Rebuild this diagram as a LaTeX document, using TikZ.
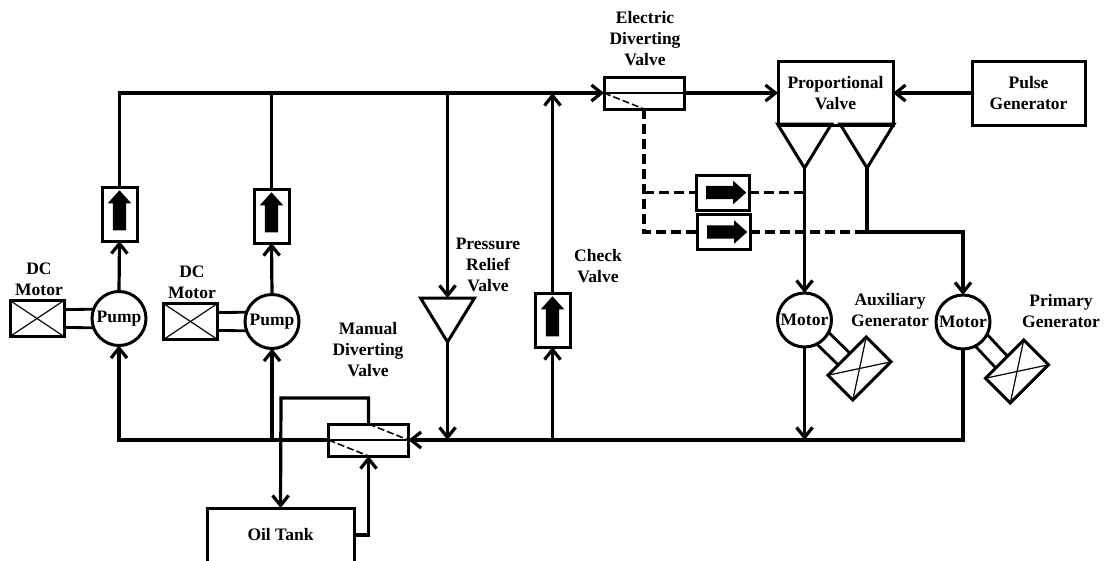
\documentclass[tikz,border=0pt]{standalone}
\usepackage{fontspec}
\setmainfont{Liberation Serif}
\usetikzlibrary{arrows.meta,positioning,calc,shapes.geometric,shapes.arrows}
\tikzset{
  pipe/.style={line width=3.2pt},
  flow/.style={pipe,-{Straight Barb[length=10pt,width=16pt,line width=3.2pt]}},
  signal/.style={line width=3.2pt,dash pattern=on 10pt off 5pt},
  shaft/.style={line width=2.8pt},
  thinline/.style={line width=1.2pt},
  thindash/.style={line width=1.5pt,dash pattern=on 7pt off 3pt},
  tagtext/.style={font=\fontsize{17.5}{21}\selectfont\bfseries,align=center,inner sep=0pt},
  unitbox/.style={draw,line width=3pt,inner sep=0pt,outer sep=0pt,tagtext},
  valvebox/.style={unitbox,minimum width=80pt,minimum height=32pt},
  motorbox/.style={unitbox,minimum width=54pt,minimum height=36pt},
  checkup/.style={unitbox,minimum width=35pt,minimum height=54pt},
  checkright/.style={unitbox,minimum width=53pt,minimum height=35pt},
  genbox/.style={unitbox,minimum width=54pt,minimum height=35pt,rotate=45},
  roundunit/.style={unitbox,circle,minimum size=54pt},
  wedge/.style={draw,line width=3pt,isosceles triangle,isosceles triangle stretches,
    shape border rotate=-90,minimum width=54pt,minimum height=44pt,inner sep=0pt,outer sep=0pt,anchor=apex},
  fatarrow/.style={single arrow,fill=black,inner sep=6.5pt,outer sep=0pt,minimum height=40pt,
    single arrow head extend=5pt,single arrow tip angle=84},
}
\begin{document}
\begin{tikzpicture}[x=1pt,y=-1pt]
  \useasboundingbox (0,0) rectangle (1107,560);

  % Left pump line
  \node[motorbox] (dcma) at (37,318.5) {};
  \node[roundunit] (pumpa) at (119,318.5) {Pump};
  \node[checkup] (cva) at (119.5,214) {};
  \node[fatarrow,shape border rotate=90] (cvamark) at (cva) {};
  \node[tagtext] (dcmatag) at (39,279) {DC\\Motor};

  % Second pump line
  \node[motorbox] (dcmb) at (190.5,321.5) {};
  \node[roundunit] (pumpb) at (272,321.5) {Pump};
  \node[checkup] (cvb) at (271.5,216) {};
  \node[fatarrow,shape border rotate=90] (cvbmark) at (cvb) {};
  \node[tagtext] (dcmbtag) at (192,282) {DC\\Motor};

  % Valves on the top line
  \node[valvebox] (edv) at (644,93) {};
  \node[tagtext] (edvtag) at (645,39) {Electric\\Diverting\\Valve};
  \node[unitbox,minimum width=115pt,minimum height=64pt] (pv) at (835.5,93) {Proportional\\Valve};
  \node[unitbox,minimum width=113pt,minimum height=64pt] (pulse) at (1028.5,93) {Pulse\\Generator};
  \node[wedge] (tria) at (804.5,168) {};
  \node[wedge] (trib) at (867,168) {};
  \node[checkright] (cvc) at (722.5,192.5) {};
  \node[fatarrow] (cvcmark) at (cvc) {};
  \node[checkright] (cvd) at (723.5,232) {};
  \node[fatarrow] (cvdmark) at (cvd) {};

  % Relief and check valve
  \node[wedge] (prv) at (447.5,342) {};
  \node[tagtext] (prvtag) at (488,265) {Pressure\\Relief\\Valve};
  \node[checkup] (cve) at (552.5,320) {};
  \node[fatarrow,shape border rotate=90] (cvemark) at (cve) {};
  \node[tagtext] (cvetag) at (598,266) {Check\\Valve};

  % Manual valve and tank
  \node[valvebox] (mdv) at (368.5,440) {};
  \node[tagtext] (mdvtag) at (368,350) {Manual\\Diverting\\Valve};
  \node[unitbox,minimum width=147pt,minimum height=54pt] (tank) at (280.5,535) {Oil Tank};
  \coordinate (mdvloop) at (281,398);

  % Motors and generators
  \node[roundunit] (mota) at (804.5,320) {Motor};
  \node[genbox] (gena) at (859.5,368.5) {};
  \node[tagtext] (genatag) at (890,310) {Auxiliary\\Generator};
  \node[roundunit] (motb) at (963,322) {Motor};
  \node[genbox] (genb) at (1017,371.5) {};
  \node[tagtext] (genbtag) at (1061,311) {Primary\\Generator};

  % Crossed boxes
  \foreach \boxname in {dcma,dcmb,gena,genb}{
    \draw[thinline] (\boxname.north west) -- (\boxname.south east);
    \draw[thinline] (\boxname.south west) -- (\boxname.north east);
  }

  % Shafts
  \draw[shaft] ([yshift=9pt]dcma.east) -- (pumpa.160);
  \draw[shaft] ([yshift=-9pt]dcma.east) -- (pumpa.200);
  \draw[shaft] ([yshift=9pt]dcmb.east) -- (pumpb.160);
  \draw[shaft] ([yshift=-9pt]dcmb.east) -- (pumpb.200);
  \draw[shaft] (mota.-27) -- ($(gena.north)!4pt!(gena.north east)$);
  \draw[shaft] (mota.-63) -- ($(gena.north)!12.5pt!(gena.north west)$);
  \draw[shaft] (motb.-27) -- ($(genb.north)!4pt!(genb.north east)$);
  \draw[shaft] (motb.-63) -- ($(genb.north)!12.5pt!(genb.north west)$);

  % Top line
  \draw[flow] (pumpa.north) -- (cva.south);
  \draw[flow] (pumpb.north) -- (cvb.south);
  \draw[flow] (cva.north) |- (edv.west);
  \draw[pipe] (cvb.north) -- (cvb.north |- edv.west);
  \draw[flow] (prv.lower side |- edv.west) -- (prv.lower side);
  \draw[flow] (cve.north) -- (cve.north |- edv.west);
  \draw[flow] (edv.east) -- (pv.west);
  \draw[flow] (pulse.west) -- (pv.east);

  % Valve insides
  \draw[thinline] (edv.west) -- (edv.east);
  \draw[thindash] (edv.west) -- (edv.south);
  \draw[thinline] (mdv.west) -- (mdv.east);
  \draw[thindash] (mdv.west) -- (mdv.south);
  \draw[thindash] (mdv.north) -- (mdv.east);

  % Signal lines
  \draw[signal] (edv.south) |- (cvd.west);
  \draw[signal] (edv.south |- cvc.west) -- (cvc.west);
  \draw[signal] (cvc.east) -- (tria.apex |- cvc.east);
  \draw[signal] (cvd.east) -- (trib.apex |- cvd.east);

  % Motor feeds
  \draw[flow] (tria.apex) -- (mota.north);
  \draw[flow] (trib.apex) |- (cvd.east -| motb.north) -- (motb.north);

  % Bottom line
  \draw[flow] (motb.south) |- (mdv.east);
  \draw[flow] (mota.south) -- (mota.south |- mdv.east);
  \draw[flow] (prv.apex) -- (prv.apex |- mdv.east);
  \draw[flow] (cve.south |- mdv.east) -- (cve.south);
  \draw[flow] (mdv.west) -| (pumpa.south);
  \draw[flow] (pumpb.south |- mdv.west) -- (pumpb.south);

  % Tank loop
  \draw[flow] (mdv.north) |- (mdvloop) -- (tank.north);
  \draw[flow] (tank.east) -| (mdv.south);
\end{tikzpicture}
\end{document}
